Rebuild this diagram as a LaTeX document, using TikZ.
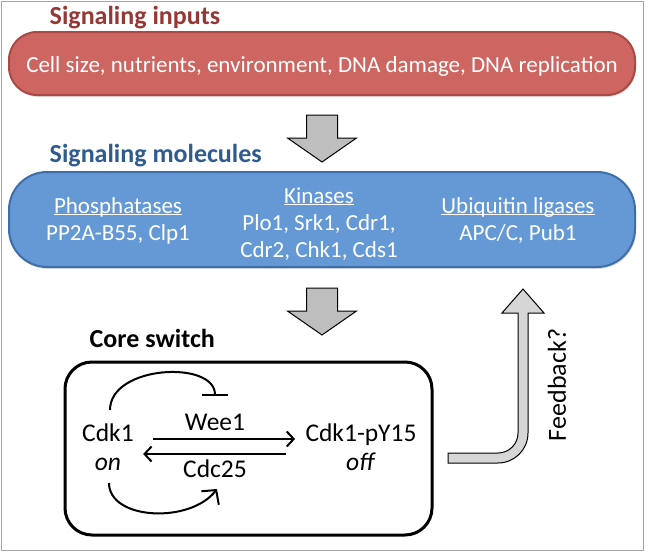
\documentclass[tikz,border=0pt]{standalone}
\usepackage{fontspec}
\setmainfont{Carlito}
\usepackage{xcolor}
\usepackage{tikz}
\usetikzlibrary{arrows.meta,shadows}

\definecolor{inputred}{RGB}{205,101,97}
\definecolor{inputedge}{RGB}{172,72,68}
\definecolor{titlered}{RGB}{149,55,53}
\definecolor{molblue}{RGB}{100,153,213}
\definecolor{moledge}{RGB}{62,110,170}
\definecolor{titleblue}{RGB}{47,91,143}
\definecolor{arrowgray}{RGB}{190,190,190}
\definecolor{fbgray}{RGB}{214,214,214}

\newcommand{\headfont}{\fontsize{26}{31}\selectfont\bfseries}
\newcommand{\boxfont}{\fontsize{23}{27}\selectfont}
\newcommand{\corefont}{\fontsize{25.5}{29}\selectfont}
\newcommand{\ulhead}[1]{\underline{\smash{#1}}}

% gray block arrow pointing down, #1 = top centre
\newcommand{\grayarrow}[1]{%
\draw[blockarrow] #1 ++(-15.5,0) -- ++(31,0) -- ++(0,23) -- ++(19,0) -- ++(-34.5,24) -- ++(-34.5,-24) -- ++(19,0) -- cycle;}

\begin{document}
\begin{tikzpicture}[x=1pt, y=-1pt, thick,
  headtext/.style={anchor=base west, font=\headfont},
  signalbox/.style={draw, line width=2pt, outer sep=0pt, minimum width=626pt,
    text=white, drop shadow={opacity=0.25, shadow xshift=1pt, shadow yshift=-2pt}},
  molcol/.style={align=center, anchor=base, text=white, font=\boxfont, inner sep=0pt},
  corenode/.style={align=center, anchor=base, font=\corefont, inner sep=0pt},
  blockarrow/.style={draw=black, fill=arrowgray, line width=1pt, line join=miter},
  fbarrow/.style={draw=black, fill=fbgray, line width=1pt, line join=miter},
  act/.style={line width=2pt, -{Straight Barb[length=7pt,width=15pt]}},
  actbig/.style={line width=2pt, -{Straight Barb[length=10pt,width=22pt]}},
  inh/.style={line width=2pt, -{Bar[width=26pt]}}]
%%%%% Frame %%%%%
\useasboundingbox (0,0) rectangle (649,552);
\draw[gray!70, line width=1pt] (1,1) rectangle (643,550);

%%%%% Signaling inputs %%%%%
\node[headtext, text=titlered] (intitle) at (46,24) {Signaling inputs};
\node[signalbox, fill=inputred, draw=inputedge, rounded corners=28pt, minimum height=63pt,
  font=\boxfont, text height=22pt, text depth=5pt] (inputs) at (322,63.5)
  {Cell size, nutrients, environment, DNA damage, DNA replication};
\grayarrow{([yshift=-20pt]inputs.south)}

%%%%% Signaling molecules %%%%%
\node[headtext, text=titleblue] (moltitle) at (46,162) {Signaling molecules};
\node[signalbox, fill=molblue, draw=moledge, rounded corners=38pt, minimum height=95pt] (molecules) at (322,219.5) {};
\node[molcol] (phos) at (118,240) {\ulhead{Phosphatases}\\PP2A-B55, Clp1};
\node[molcol] (kin) at (319,257) {\ulhead{Kinases}\\Plo1, Srk1, Cdr1,\\Cdr2, Chk1, Cds1};
\node[molcol] (ubi) at (518,240) {\ulhead{Ubiquitin ligases}\\APC/C, Pub1};
\grayarrow{([yshift=-21pt]molecules.south)}

%%%%% Core switch %%%%%
\node[headtext] (coretitle) at (86,347) {Core switch};
\node[draw, line width=3pt, rounded corners=27pt, outer sep=0pt, minimum width=367pt, minimum height=173pt] (core) at (248.5,448.5) {};
\node[corenode] (cdk) at (108,470) {Cdk1\\\textit{on}};
\node[corenode] (cdkp) at (361,470) {Cdk1-pY15\\\textit{off}};
\node[corenode] (wee) at (215,430) {Wee1};
\node[corenode] (cdc) at (215,477) {Cdc25};
\draw[act] ([xshift=19pt,yshift=31pt]cdk.base east) -- ([xshift=-10pt,yshift=31pt]cdkp.base west);
\draw[act] ([xshift=-19pt,yshift=16pt]cdkp.base west) -- ([xshift=9pt,yshift=16pt]cdk.base east);
\draw[inh] ([xshift=2pt,yshift=60pt]cdk.base) .. controls +(0,-45) and +(0,-36) .. ([yshift=34pt]wee.base);
\draw[actbig] ([xshift=1pt,yshift=-13pt]cdk.base) .. controls +(0,37) and +(-27,35) .. ([xshift=2pt,yshift=-12pt]cdc.base);

%%%%% Feedback %%%%%
\coordinate (fbstart) at ([xshift=16pt,yshift=-9.5pt]core.east);
\draw[fbarrow] (fbstart) ++(0,-5) -- ++(50,0) .. controls +(11.05,0) and +(0,11.05) .. ++(20,-20)
  -- ++(0,-120) -- ++(-16,0) -- ++(21,-24) -- ++(21,24) -- ++(-16,0) -- ++(0,120)
  .. controls +(0,16.57) and +(16.57,0) .. ++(-30,30) -- ++(-50,0) -- cycle;
\node[rotate=90, font=\fontsize{26}{31}\selectfont] (fbtext) at (557,385) {Feedback?};
\end{tikzpicture}
\end{document}
